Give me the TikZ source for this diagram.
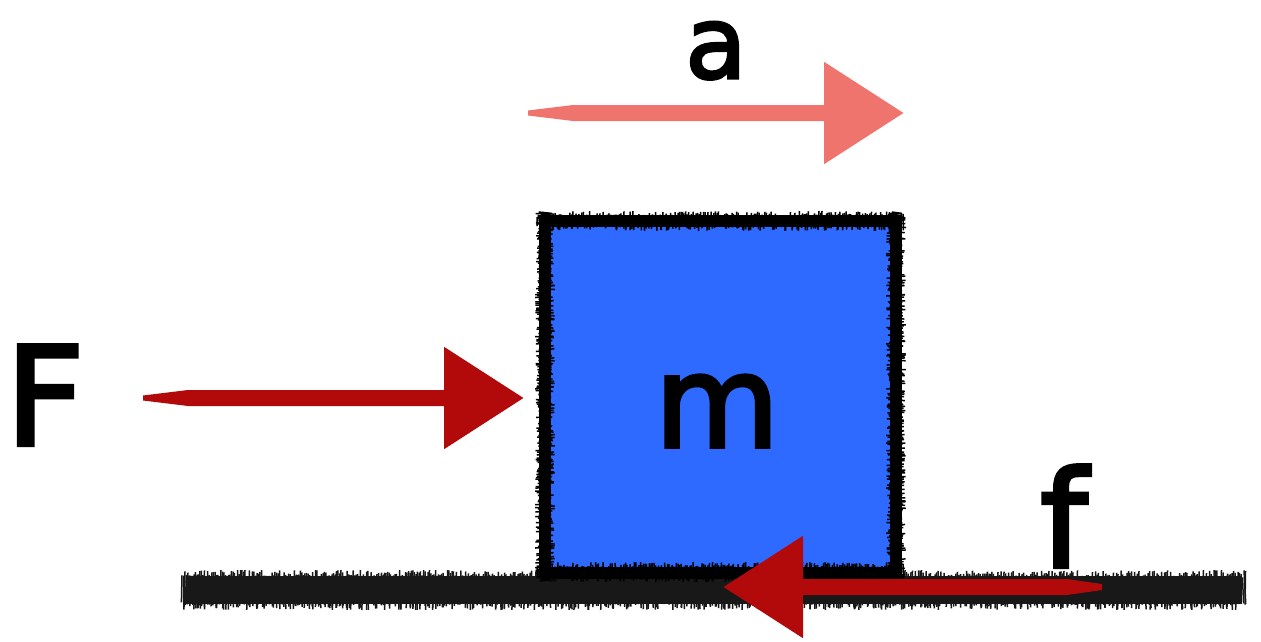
\documentclass[tikz,border=0pt]{standalone}
\usepackage{fontspec}
\setmainfont{DejaVu Sans}[BoldFont=DejaVu Sans, BoldFeatures={FakeBold=3}]
\usetikzlibrary{arrows.meta,calc}
\definecolor{pinkarrow}{RGB}{240,116,110}
\definecolor{darkred}{RGB}{178,10,10}
\definecolor{blockblue}{RGB}{46,106,255}
\definecolor{roughblack}{RGB}{24,24,24}
\tikzset{
  headtip/.style={line width=16pt, -{Triangle[length=80pt, width=98pt]}},
  lbl/.style={anchor=base, inner sep=0pt, text=black},
  tick/.style={roughblack, line width=1.5pt},
  btick/.style={black, line width=1.5pt},
}
\begin{document}
\begin{tikzpicture}[x=1pt,y=-1pt]
\pgfmathsetseed{11}
\useasboundingbox[fill=white] (0,0) rectangle (1261,642);
% ground (fuzzy thick stroke)
\coordinate (gl) at (186,590);
\coordinate (gr) at (1242,590);
\draw[roughblack, line width=28pt] (gl) -- (gr);
\foreach \x in {182,183.5,...,1246}{
  \pgfmathsetmacro\ta{570+8*rnd}
  \pgfmathsetmacro\tb{610-8*rnd}
  \pgfmathsetmacro\dx{4*rnd-2}
  \draw[tick] (\x,\ta) -- (\x+\dx,\tb);
}
% block
\node[draw=black, fill=blockblue, line width=12pt, minimum width=351pt, minimum height=352pt, inner sep=0pt] (block) at (720.5,396.5) {};
\foreach \x in {537,538.5,...,904}{
  \pgfmathsetmacro\ta{211+7*rnd}
  \pgfmathsetmacro\tb{231-7*rnd}
  \pgfmathsetmacro\dx{3*rnd-1.5}
  \draw[btick] (\x,\ta) -- (\x+\dx,\tb);
  \pgfmathsetmacro\tc{562+7*rnd}
  \pgfmathsetmacro\td{582-7*rnd}
  \draw[btick] (\x,\tc) -- (\x+\dx,\td);
}
\foreach \y in {212,213.5,...,581}{
  \pgfmathsetmacro\ta{535+7*rnd}
  \pgfmathsetmacro\tb{555-7*rnd}
  \pgfmathsetmacro\dy{3*rnd-1.5}
  \draw[btick] (\ta,\y) -- (\tb,\y+\dy);
  \pgfmathsetmacro\tc{886+7*rnd}
  \pgfmathsetmacro\td{906-7*rnd}
  \draw[btick] (\tc,\y) -- (\td,\y+\dy);
}
\node[lbl, font=\fontsize{128}{128}\selectfont\bfseries] (m) at (717,447) {m};
% acceleration
\coordinate (as) at (528,113);
\coordinate (ae) at (904,113);
\fill[pinkarrow] ($(as)+(0,-2.5)$) -- ($(as)+(45,-8)$) -- ($(ae)+(-75,-8)$) -- ($(ae)+(-75,8)$) -- ($(as)+(45,8)$) -- ($(as)+(0,2.5)$) -- cycle;
\draw[headtip, pinkarrow] ($(ae)+(-80,0)$) -- (ae);
\node[lbl, font=\fontsize{100}{100}\selectfont\bfseries] (alab) at (716,78) {a};
% applied force
\coordinate (Fs) at (143,398);
\coordinate (Fe) at (524,398);
\fill[darkred] ($(Fs)+(0,-2.5)$) -- ($(Fs)+(45,-8)$) -- ($(Fe)+(-75,-8)$) -- ($(Fe)+(-75,8)$) -- ($(Fs)+(45,8)$) -- ($(Fs)+(0,2.5)$) -- cycle;
\draw[headtip, darkred] ($(Fe)+(-80,0)$) -- (Fe);
\node[lbl, font=\fontsize{137}{137}\selectfont\bfseries] (Flab) at (45,445) {F};
% friction
\coordinate (fs) at (1102,587);
\coordinate (fe) at (723,587);
\fill[darkred] ($(fs)+(0,-3)$) -- ($(fs)+(-35,-8)$) -- ($(fe)+(75,-8)$) -- ($(fe)+(75,8)$) -- ($(fs)+(-35,8)$) -- ($(fs)+(0,3)$) -- cycle;
\draw[headtip, darkred] ($(fe)+(80,0)$) -- (fe);
\node[lbl, font=\fontsize{134}{134}\selectfont\bfseries] (flab) at (1064,567) {f};
\end{tikzpicture}
\end{document}
